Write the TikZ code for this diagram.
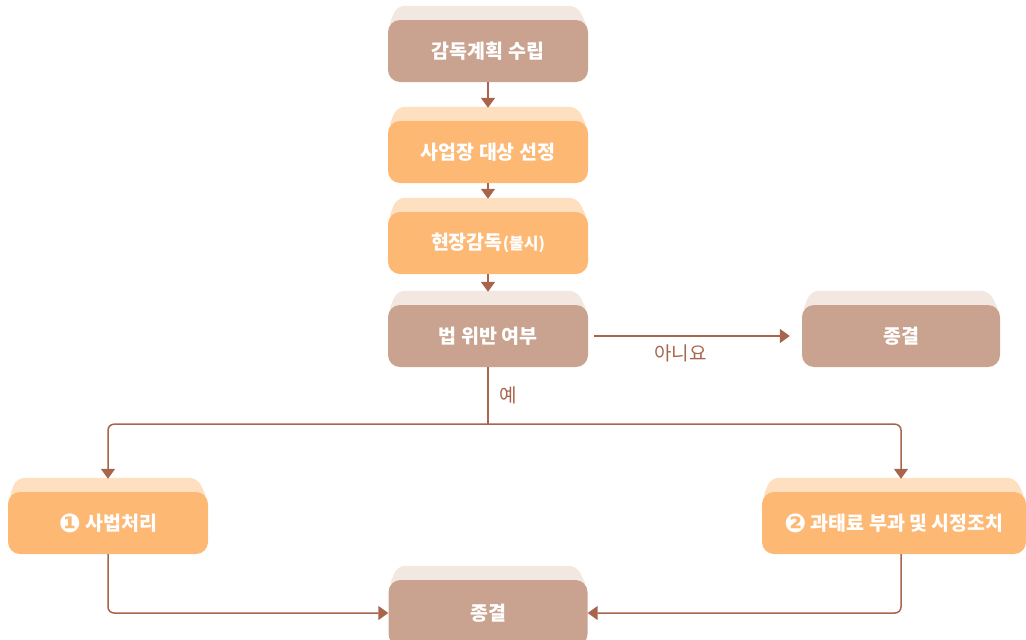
\documentclass[tikz,border=0pt]{standalone}
\usepackage{fontspec}
\setmainfont{Noto Sans CJK KR}
\newfontfamily\symfont{DejaVu Sans}
\usetikzlibrary{arrows.meta, calc, backgrounds}

\definecolor{boxbrown}{HTML}{C9A38F}
\definecolor{backbrown}{HTML}{F3E7E1}
\definecolor{boxorange}{HTML}{FDB874}
\definecolor{backorange}{HTML}{FEDFC0}
\definecolor{linebrown}{HTML}{A8654B}

\tikzset{
  stepbox/.style={rounded corners=12pt, minimum width=200pt, minimum height=62pt,
    text=white, font=\fontsize{19.5}{22}\selectfont\bfseries},
  brownbox/.style={stepbox, fill=boxbrown},
  orangebox/.style={stepbox, fill=boxorange},
  arr/.style={-{Triangle[width=14pt,length=10pt]}, draw=linebrown, line width=1.5pt},
  answer/.style={text=linebrown, font=\fontsize{19}{22}\selectfont}
}

% light tab behind a box
\newcommand{\backtab}[2]{%
  \fill[#2, rounded corners=8pt] ($(#1.north west)+(0,8)$) -- ($(#1.north west)+(9,-14)$)
    -- ($(#1.north east)+(-11,-14)$) -- ($(#1.north east)+(0,8)$) -- cycle;}

% circled numbers
\newcommand{\numsym}[1]{{\symfont\fontsize{26}{22}\selectfont\raisebox{-1.5pt}{#1}}}

\begin{document}
\begin{tikzpicture}[x=1pt, y=-1pt]
  \useasboundingbox (0,0) rectangle (1026,640);
  \clip (0,0) rectangle (1026,640);

  % Main column
  \node[brownbox] (plan) at (488,51) {감독계획 수립};
  \node[orangebox] (select) at (488,152) {사업장 대상 선정};
  \node[orangebox] (inspect) at (488,243) {현장감독{\fontsize{16}{20}\selectfont(불시)}};
  \node[brownbox] (check) at (488,336) {법 위반 여부};

  % No
  \node[brownbox, minimum width=198pt] (endR) at (901,336) {종결};

  % Yes
  \node[orangebox] (judicial) at (108,523) {\numsym{❶} 사법처리};
  \node[orangebox, minimum width=264pt] (fine) at (894,523) {\numsym{❷} 과태료 부과 및 시정조치};

  % End
  \node[brownbox, minimum width=199pt, minimum height=66pt] (endB) at (488,613) {종결};

  % Tabs behind the boxes
  \begin{scope}[on background layer]
    \backtab{plan}{backbrown}
    \backtab{select}{backorange}
    \backtab{inspect}{backorange}
    \backtab{check}{backbrown}
    \backtab{endR}{backbrown}
    \backtab{judicial}{backorange}
    \backtab{fine}{backorange}
    \backtab{endB}{backbrown}
  \end{scope}

  % Arrows
  \draw[arr] (plan.south) -- ($(select.north)+(0,-13)$);
  \draw[arr] (select.south) -- ($(inspect.north)+(0,-13)$);
  \draw[arr] (inspect.south) -- ($(check.north)+(0,-13)$);
  \draw[arr] ($(check.east)+(6,0)$) -- ($(endR.west)+(-12,0)$)
    node[answer, pos=0.44, below=5pt] {아니요};
  \draw[line width=1.5pt, draw=linebrown] (check.south) -- ++(0,57) coordinate (split)
    node[answer, midway, right=7pt] {예};
  \draw[arr, rounded corners=6pt] (split) -| ($(judicial.north)+(0,-13)$);
  \draw[arr, rounded corners=6pt] (split) -| ($(fine.north)+(7,-13)$);
  \draw[arr, rounded corners=6pt] (judicial.south) |- (endB.west);
  \draw[arr, rounded corners=6pt] ($(fine.south)+(7,0)$) |- (endB.east);
\end{tikzpicture}
\end{document}
